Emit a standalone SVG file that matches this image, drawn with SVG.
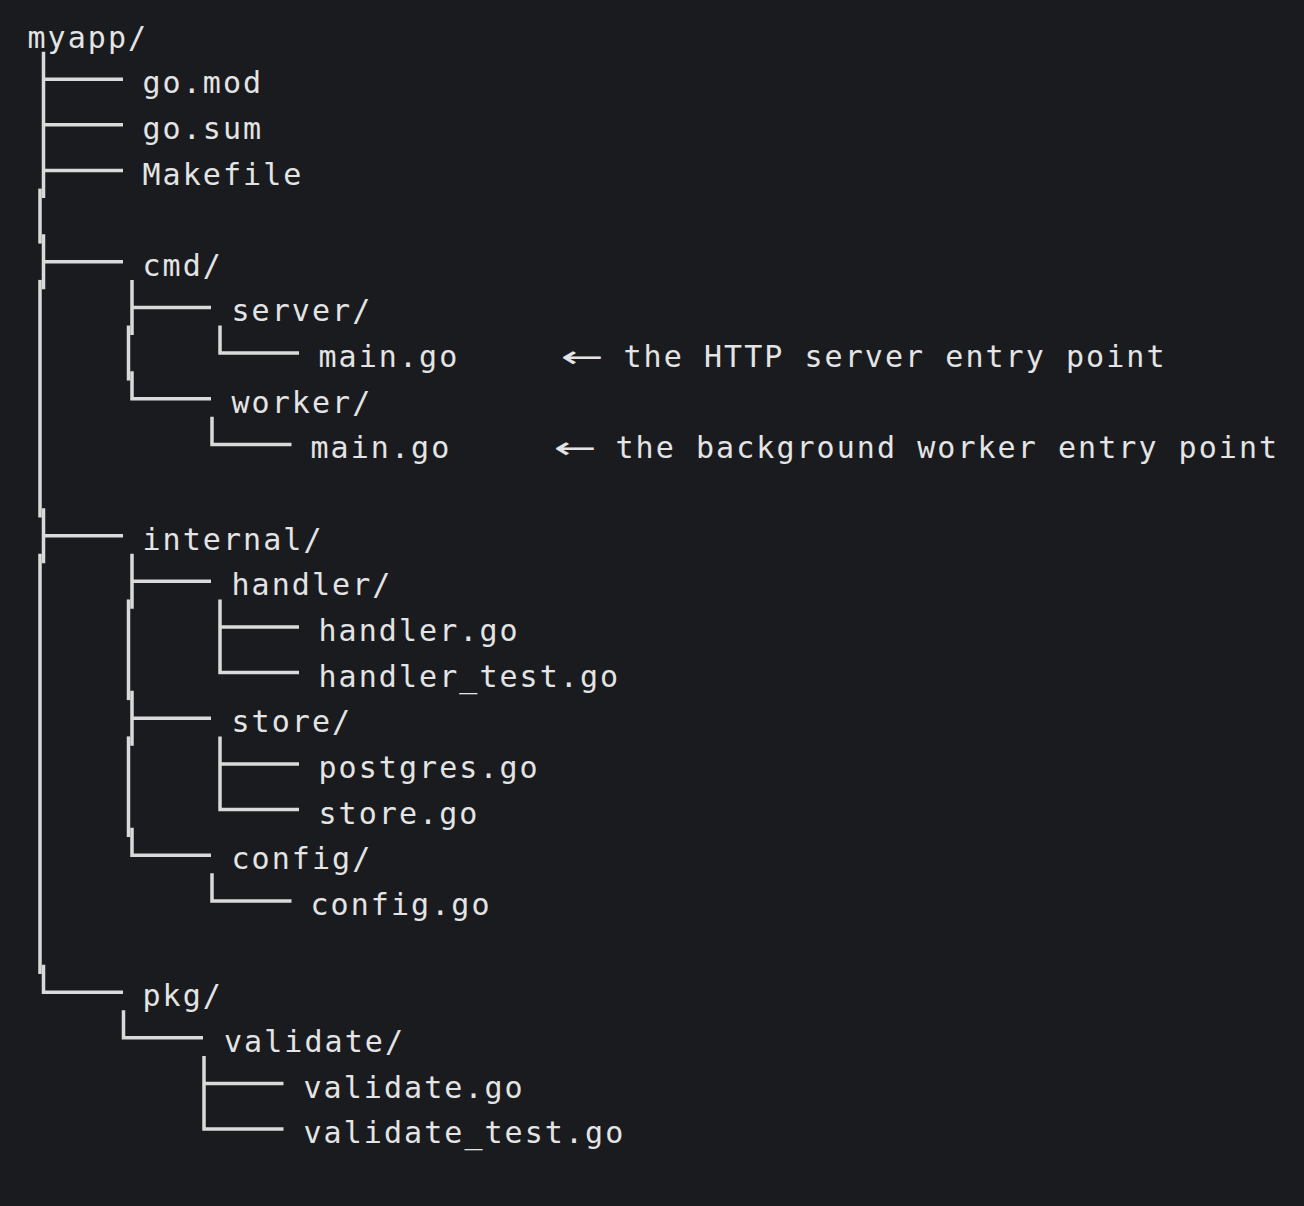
<svg xmlns="http://www.w3.org/2000/svg" width="1304" height="1206" viewBox="0 0 1304 1206">
<style>
.bg{fill:#1a1b1f}
text{font-family:"DejaVu Sans Mono","Liberation Mono",monospace;font-size:30px;letter-spacing:2.05px;fill:#e4e4e4}
text.arr{font-family:"DejaVu Sans",sans-serif;letter-spacing:0}
#connectors path{fill:none;stroke:#dadada;stroke-width:3.5;stroke-linecap:butt;stroke-linejoin:miter}
</style>
<rect class="bg" width="1304" height="1206"/>
<g id="connectors">
<path d="M43.5 51.65V197.95"/>
<path d="M43.5 79.2H123M43.5 124.8H123M43.5 170.5H123"/>
<path d="M40 188.6V243.6"/>
<path d="M43.5 234.25V289.25M43.5 261.8H123"/>
<path d="M40 279.9V517.5"/>
<path d="M43.5 508.15V563.15M43.5 535.7H123"/>
<path d="M40 553.8V974"/>
<path d="M43.5 964.65V992.2H123"/>
<path d="M132 279.9V334.9M132 307.4H211"/>
<path d="M128.5 325.55V380.55"/>
<path d="M132 371.2V398.7H211"/>
<path d="M132 553.8V608.8M132 581.3H211"/>
<path d="M128.5 599.45V700.1"/>
<path d="M132 690.75V745.75M132 718.3H211"/>
<path d="M128.5 736.4V837.05"/>
<path d="M132 827.7V855.2H211"/>
<path d="M220 325.55V353.05H299"/>
<path d="M220 599.45V672.6H299M220 627H299"/>
<path d="M220 736.4V809.6H299M220 763.9H299"/>
<path d="M212 416.85V444.4H291.5"/>
<path d="M212 873.35V900.9H291.5"/>
<path d="M123.5 1010.3V1037.8H203"/>
<path d="M204 1055.95V1129.1H283.5M204 1083.5H283.5"/>
</g>
<g id="n-myapp"><text x="27.5" y="47.5">myapp/</text></g>
<g id="n-gomod"><text x="142.5" y="93.2">go.mod</text></g>
<g id="n-gosum"><text x="142.5" y="138.8">go.sum</text></g>
<g id="n-makefile"><text x="142.5" y="184.5">Makefile</text></g>
<g id="n-cmd"><text x="142.5" y="275.8">cmd/</text></g>
<g id="n-server"><text x="231.5" y="321.4">server/</text></g>
<g id="n-server-main"><text x="318.5" y="367.1">main.go</text><text class="arr" x="561" y="367.1" textLength="43" lengthAdjust="spacingAndGlyphs">←</text><text x="623.5" y="367.1">the HTTP server entry point</text></g>
<g id="n-worker"><text x="231.5" y="412.7">worker/</text></g>
<g id="n-worker-main"><text x="310.5" y="458.4">main.go</text><text class="arr" x="554" y="458.4" textLength="43" lengthAdjust="spacingAndGlyphs">←</text><text x="615.5" y="458.4">the background worker entry point</text></g>
<g id="n-internal"><text x="142.5" y="549.7">internal/</text></g>
<g id="n-handler"><text x="231.5" y="595.3">handler/</text></g>
<g id="n-handler-go"><text x="318.5" y="641">handler.go</text></g>
<g id="n-handler-test"><text x="318.5" y="686.6">handler_test.go</text></g>
<g id="n-store"><text x="231.5" y="732.3">store/</text></g>
<g id="n-postgres"><text x="318.5" y="777.9">postgres.go</text></g>
<g id="n-store-go"><text x="318.5" y="823.6">store.go</text></g>
<g id="n-config"><text x="231.5" y="869.2">config/</text></g>
<g id="n-config-go"><text x="310.5" y="914.9">config.go</text></g>
<g id="n-pkg"><text x="142.5" y="1006.2">pkg/</text></g>
<g id="n-validate"><text x="224" y="1051.8">validate/</text></g>
<g id="n-validate-go"><text x="303.5" y="1097.5">validate.go</text></g>
<g id="n-validate-test"><text x="303.5" y="1143.1">validate_test.go</text></g>
</svg>
